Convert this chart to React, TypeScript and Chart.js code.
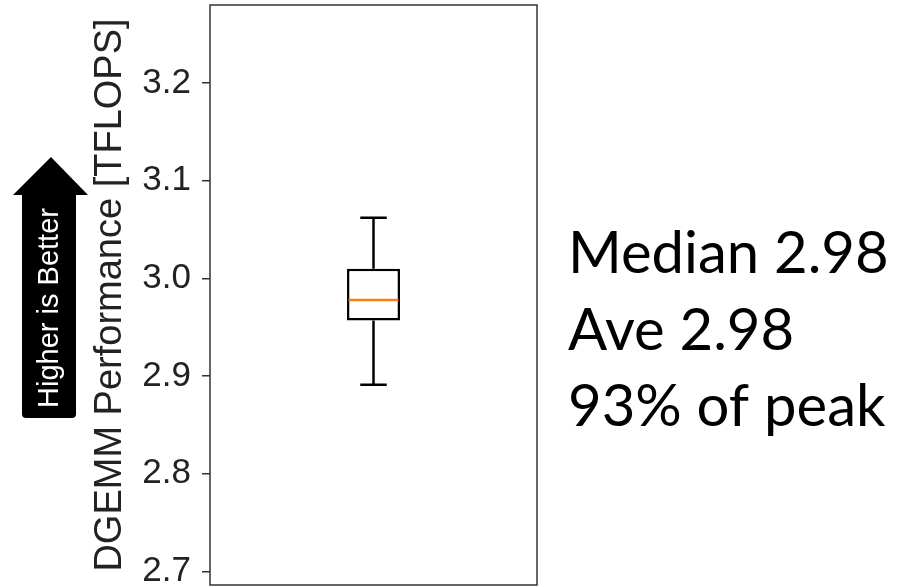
import React, { useEffect, useRef } from 'react';
import { Chart, registerables } from 'chart.js';

Chart.register(...registerables);

const CATEGORIES = ['DGEMM'];
const WHISKER_LOW = [2.891];
const Q1 = [2.957];
const MEDIAN = [2.978];
const Q3 = [3.01];
const WHISKER_HIGH = [3.062];
const Y_TICKS = [2.7, 2.8, 2.9, 3.0, 3.1, 3.2];
const Y_MIN = 2.686;
const Y_MAX = 3.28;
const SUMMARY_LINES = ['Median 2.98', 'Ave 2.98', '93% of peak'];
const AXIS_TITLE = 'DGEMM Performance [TFLOPS]';
const ARROW_TEXT = 'Higher is Better';

const boxPlugin = {
  id: 'boxWhiskers',
  afterDatasetsDraw(chart: any) {
    const ctx = chart.ctx;
    const x = chart.scales.x;
    const y = chart.scales.y;
    const meta = chart.getDatasetMeta(0);
    ctx.save();
    CATEGORIES.forEach((_, i) => {
      const cx = x.getPixelForValue(i);
      const bw = meta.data[i] ? meta.data[i].width : 50;
      const cap = bw / 4;
      ctx.strokeStyle = '#000';
      ctx.lineWidth = 2.5;
      ctx.beginPath();
      ctx.moveTo(cx, y.getPixelForValue(Q3[i]));
      ctx.lineTo(cx, y.getPixelForValue(WHISKER_HIGH[i]));
      ctx.moveTo(cx - cap, y.getPixelForValue(WHISKER_HIGH[i]));
      ctx.lineTo(cx + cap, y.getPixelForValue(WHISKER_HIGH[i]));
      ctx.moveTo(cx, y.getPixelForValue(Q1[i]));
      ctx.lineTo(cx, y.getPixelForValue(WHISKER_LOW[i]));
      ctx.moveTo(cx - cap, y.getPixelForValue(WHISKER_LOW[i]));
      ctx.lineTo(cx + cap, y.getPixelForValue(WHISKER_LOW[i]));
      ctx.stroke();
      ctx.strokeStyle = '#ff7f0e';
      ctx.beginPath();
      ctx.moveTo(cx - bw / 2 + 1.5, y.getPixelForValue(MEDIAN[i]));
      ctx.lineTo(cx + bw / 2 - 1.5, y.getPixelForValue(MEDIAN[i]));
      ctx.stroke();
    });
    const a = chart.chartArea;
    ctx.strokeStyle = '#333';
    ctx.lineWidth = 1.5;
    ctx.strokeRect(a.left, a.top, a.right - a.left, a.bottom - a.top);
    ctx.restore();
  },
  afterDraw(chart: any) {
    const ctx = chart.ctx;
    ctx.save();
    ctx.fillStyle = '#000';
    ctx.beginPath();
    ctx.moveTo(51, 157);
    ctx.lineTo(88, 195);
    ctx.lineTo(76, 195);
    ctx.lineTo(76, 414);
    ctx.quadraticCurveTo(76, 418, 72, 418);
    ctx.lineTo(26, 418);
    ctx.quadraticCurveTo(22, 418, 22, 414);
    ctx.lineTo(22, 195);
    ctx.lineTo(13, 195);
    ctx.closePath();
    ctx.fill();
    ctx.translate(50, 308);
    ctx.rotate(-Math.PI / 2);
    ctx.fillStyle = '#fff';
    ctx.font = '29px "Liberation Sans", Arial, sans-serif';
    ctx.textAlign = 'center';
    ctx.textBaseline = 'middle';
    ctx.fillText(ARROW_TEXT, 0, 0);
    ctx.restore();

    ctx.save();
    ctx.fillStyle = '#000';
    ctx.font = '58px Lato, "Open Sans", sans-serif';
    ctx.textAlign = 'left';
    ctx.textBaseline = 'alphabetic';
    SUMMARY_LINES.forEach((t, i) => {
      ctx.fillText(t, 568, 273 + i * 76.5);
    });
    ctx.restore();
  },
};

export default function App() {
  const ref = useRef<HTMLCanvasElement>(null);
  useEffect(() => {
    document.body.style.margin = '0';
    const chart = new Chart(ref.current!, {
      type: 'bar',
      data: {
        labels: CATEGORIES,
        datasets: [
          {
            data: CATEGORIES.map((_, i) => [Q1[i], Q3[i]]) as any,
            backgroundColor: '#ffffff',
            borderColor: '#000000',
            borderWidth: 2.5,
            borderSkipped: false,
            barPercentage: 0.162,
            categoryPercentage: 1,
          },
        ],
      },
      options: {
        animation: false,
        responsive: false,
        devicePixelRatio: 1,
        layout: { padding: { left: 88, right: 364, top: 5, bottom: 2 } },
        plugins: { legend: { display: false }, tooltip: { enabled: false } },
        scales: {
          x: { display: false },
          y: {
            min: Y_MIN,
            max: Y_MAX,
            afterBuildTicks: (scale: any) => {
              scale.ticks = Y_TICKS.map((v) => ({ value: v }));
            },
            afterFit: (scale: any) => {
              scale.width = 122;
              scale.paddingTop = 0;
              scale.paddingBottom = 0;
            },
            ticks: {
              callback: (v: any) => Number(v).toFixed(1),
              font: { family: '"Liberation Sans", Arial, sans-serif', size: 35 },
              color: '#222',
              padding: 11,
            },
            grid: {
              drawOnChartArea: false,
              drawTicks: true,
              tickLength: 8,
              color: '#333',
              lineWidth: 1.5,
            },
            border: { display: false },
            title: {
              display: true,
              text: AXIS_TITLE,
              font: { family: '"Liberation Sans", Arial, sans-serif', size: 38 },
              color: '#222',
              padding: 0,
            },
          },
        },
      },
      plugins: [boxPlugin],
    });
    return () => chart.destroy();
  }, []);
  return (
    <div style={{ width: 901, height: 587, position: 'relative' }}>
      <canvas ref={ref} width={901} height={587} />
    </div>
  );
}
